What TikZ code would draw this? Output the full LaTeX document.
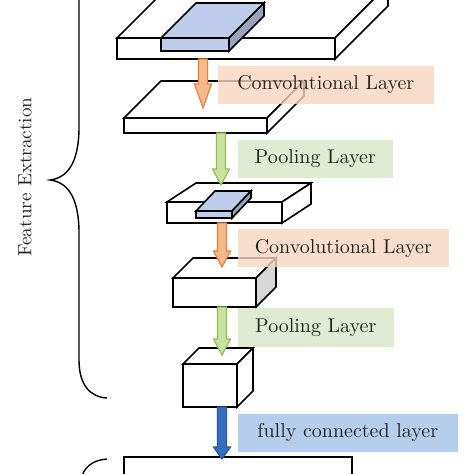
\documentclass[tikz,border=0pt]{standalone}
\usepackage{xcolor}
\usetikzlibrary{calc}

\definecolor{textgray}{RGB}{35,35,35}
\definecolor{convtagfill}{RGB}{247,214,190}
\definecolor{pooltagfill}{RGB}{216,231,198}
\definecolor{fctagfill}{RGB}{164,194,232}
\definecolor{convline}{RGB}{235,130,55}
\definecolor{convfill}{RGB}{245,185,140}
\definecolor{poolline}{RGB}{150,188,85}
\definecolor{poolfill}{RGB}{202,225,160}
\definecolor{fcline}{RGB}{40,88,160}
\definecolor{fcfill}{RGB}{55,110,190}
\definecolor{kern}{RGB}{190,205,236}
\definecolor{kernside}{RGB}{150,163,190}
\definecolor{boxside}{RGB}{215,215,215}

% x y w h dx dy face side
\newcommand{\layerbox}[8]{%
  \filldraw[fill=#7] (#1,#2) rectangle ++(#3,#4);
  \filldraw[fill=#7] (#1,#2) -- ++(#5,-#6) -- ++(#3,0) -- ++(-#5,#6) -- cycle;
  \filldraw[fill=#8] ({#1+#3},#2) -- ++(#5,-#6) -- ++(0,#4) -- ++(-#5,#6) -- cycle;}

\tikzset{
  fatarrow/.style={line width=0.6pt, to path={let \p1=(\tikztostart), \p2=(\tikztotarget) in
    (\x1-2.25pt,\y1) -- (\x1-2.25pt,\y2+#1) -- (\x1-4.25pt,\y2+#1) -- (\x1,\y2)
    -- (\x1+4.25pt,\y2+#1) -- (\x1+2.25pt,\y2+#1) -- (\x1+2.25pt,\y1) -- cycle}},
  fatarrow/.default=8pt,
  convarrow/.style={fatarrow=#1, draw=convline, fill=convfill},
  convarrow/.default=8pt,
  poolarrow/.style={fatarrow=#1, draw=poolline, fill=poolfill},
  poolarrow/.default=8pt,
  fcarrow/.style={fatarrow=#1, draw=fcline, fill=fcfill},
  fcarrow/.default=6pt,
  layertag/.style={anchor=west, inner sep=0pt, minimum height=19pt, fill opacity=0.8, text opacity=1},
  convtag/.style={layertag, fill=convtagfill},
  pooltag/.style={layertag, fill=pooltagfill},
  fctag/.style={layertag, fill=fctagfill}
}

\begin{document}
\begin{tikzpicture}[x=0.5pt, y=-0.5pt, line width=0.8pt,
    every node/.style={font=\fontsize{10}{12}\selectfont, text=textgray}]
        \useasboundingbox (0,0) rectangle (474,474);
        \clip (0,0) rectangle (474,474);

        \layerbox{117}{38}{218}{21}{53}{53}{white}{white}
        \layerbox{161}{38}{68}{13}{35}{35}{kern}{kernside}
        \layerbox{124}{118}{143}{15}{37}{37}{white}{white}
        \layerbox{167}{202}{115}{21}{29}{19}{white}{white}
        \layerbox{196}{211}{36}{7}{19}{20}{kern}{kernside}
        \layerbox{173}{278}{83}{29}{20}{20}{white}{boxside}
        \layerbox{183}{364}{54}{43}{16}{16}{white}{white}
        \filldraw[fill=white] (124,480) |- (352,457) -- (352,480);

        \coordinate (input-out) at (203,59);
        \coordinate (conv1-in) at (203,108);
        \coordinate (conv1-out) at (221,133);
        \coordinate (pool1-in) at (221,185);
        \coordinate (pool1-out) at (222,223);
        \coordinate (conv2-in) at (222,267);
        \coordinate (conv2-out) at (222,307);
        \coordinate (pool2-in) at (222,355);
        \coordinate (pool2-out) at (222,407);
        \coordinate (fc-in) at (222,459);

        \draw[convarrow=12pt] (input-out) to (conv1-in);
        \draw[poolarrow] (conv1-out) to (pool1-in);
        \draw[convarrow] (pool1-out) to (conv2-in);
        \draw[poolarrow] (conv2-out) to (pool2-in);
        \draw[fcarrow] (pool2-out) to (fc-in);

        \node[convtag, minimum width=108pt] (conv1) at (217,85) {Convolutional Layer};
        \node[pooltag, minimum width=77.5pt] (pool1) at (237,159) {Pooling Layer};
        \node[convtag, minimum width=105.5pt] (conv2) at (237,248.5) {Convolutional Layer};
        \node[pooltag, minimum width=78pt] (pool2) at (237,327.5) {Pooling Layer};
        \node[fctag, minimum width=110pt] (fc) at (237,432.5) {fully connected layer};

        \draw[line width=0.7pt] (107,-38) .. controls (90,-36) and (79,-25) .. (79,0) -- (79,127)
            .. controls (79,165) and (66,178) .. (50,180) .. controls (66,182) and (79,195) .. (79,233)
            -- (79,360) .. controls (79,385) and (90,397) .. (107,398);
        \node[rotate=90, font=\fontsize{9.6}{11}\selectfont] (features) at (25,177) {Feature Extraction};
        \draw[line width=0.7pt] (107,459) .. controls (92,460) and (83,468) .. (81,480);
    \end{tikzpicture}
\end{document}
